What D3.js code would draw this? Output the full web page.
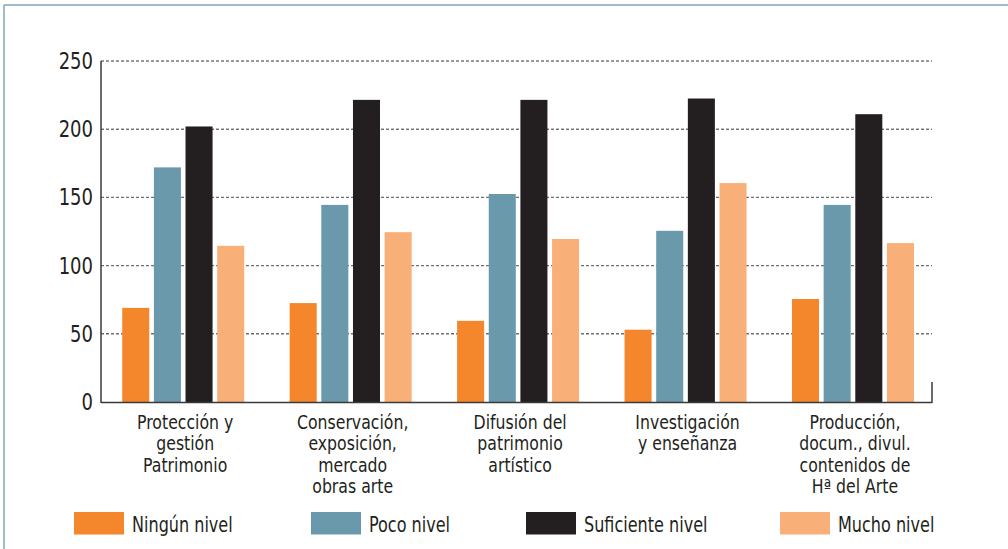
<!DOCTYPE html>
<html>
<head>
<meta charset="utf-8">
<script src="https://cdn.jsdelivr.net/npm/d3@7"></script>
<style>
  body { margin: 0; background: #fff; }
  svg text { font-family: "DejaVu Sans Condensed", "DejaVu Sans", sans-serif; fill: #231f20; }
</style>
</head>
<body>
<svg width="1008" height="549"></svg>
<script>
(function (d3) {
  'use strict';

  // Categories (each label split in lines as in the original)
  const categories = ['prot', 'cons', 'difu', 'inve', 'prod'];
  const categoryLabels = [
    ['Protección y', 'gestión', 'Patrimonio'],
    ['Conservación,', 'exposición,', 'mercado', 'obras arte'],
    ['Difusión del', 'patrimonio', 'artístico'],
    ['Investigación', 'y enseñanza'],
    ['Producción,', 'docum., divul.', 'contenidos de', 'Hª del Arte']
  ];

  // Series
  const seriesNames = ['Ningún nivel', 'Poco nivel', 'Suficiente nivel', 'Mucho nivel'];
  const seriesColors = ['#f4862b', '#6a99ac', '#231f20', '#f9af78'];

  const ningunValues = [69, 72.5, 59.5, 53, 75.5];
  const pocoValues = [172, 144.5, 152.5, 125.5, 144.5];
  const suficienteValues = [202, 221.5, 221.5, 222.5, 211];
  const muchoValues = [114.5, 124.5, 119.5, 160.5, 116.5];
  const seriesValues = [ningunValues, pocoValues, suficienteValues, muchoValues];

  const yTicks = [0, 50, 100, 150, 200, 250];

  const svg = d3.select('svg');
  const width = +svg.attr('width');
  const height = +svg.attr('height');

  // Frame: thin blue line on top and left
  svg.append('line')
    .attr('x1', 4).attr('x2', width).attr('y1', 5).attr('y2', 5)
    .attr('stroke', '#7fa6ba').attr('stroke-width', 1.5);
  svg.append('line')
    .attr('x1', 4).attr('x2', 4).attr('y1', 5).attr('y2', height)
    .attr('stroke', '#7fa6ba').attr('stroke-width', 1.5);

  const axisLeft = 101;
  const axisRight = 932;

  const yScale = d3.scaleLinear().domain([0, 250]).range([402, 61]);

  const x0 = d3.scaleBand().domain(categories).range([99.5, 936.7]).padding(0);
  const groupWidth = 122;
  const x1 = d3.scaleBand().domain(seriesNames)
    .range([(x0.bandwidth() - groupWidth) / 2, (x0.bandwidth() + groupWidth) / 2])
    .paddingInner(0.146);

  // Grid lines (dashed)
  svg.append('g').selectAll('line')
    .data(yTicks.filter(d => d > 0))
    .enter().append('line')
    .attr('x1', axisLeft).attr('x2', axisRight)
    .attr('y1', d => yScale(d)).attr('y2', d => yScale(d))
    .attr('stroke', (d) => d >= 200 ? '#333' : '#6f6f6f')
    .attr('stroke-width', (d) => d >= 200 ? 1 : 1.4)
    .attr('stroke-dasharray', '3,2');

  // Y tick labels (condensed a bit to look like the original face)
  svg.append('g').selectAll('text')
    .data(yTicks)
    .enter().append('text')
    .attr('transform', d => `translate(93,${yScale(d) + 8}) scale(0.87,1)`)
    .attr('text-anchor', 'end')
    .style('font-size', '23px')
    .text(d => d);

  // Bars
  const groups = svg.append('g').selectAll('g')
    .data(categories)
    .enter().append('g')
    .attr('transform', d => `translate(${x0(d)},0)`);

  groups.selectAll('rect')
    .data((d, i) => seriesNames.map((s, j) => ({ s, j, v: seriesValues[j][i] })))
    .enter().append('rect')
    .attr('x', d => x1(d.s))
    .attr('width', x1.bandwidth())
    .attr('y', d => yScale(d.v))
    .attr('height', d => yScale(0) - yScale(d.v))
    .attr('fill', d => seriesColors[d.j]);

  // Axis lines
  svg.append('line')
    .attr('x1', axisLeft).attr('x2', axisLeft)
    .attr('y1', yScale(250)).attr('y2', yScale(0) + 1)
    .attr('stroke', '#3a3a3a').attr('stroke-width', 1.5);
  svg.append('line')
    .attr('x1', axisLeft).attr('x2', axisRight)
    .attr('y1', yScale(0) + 0.5).attr('y2', yScale(0) + 0.5)
    .attr('stroke', '#3a3a3a').attr('stroke-width', 1.5);
  svg.append('line')
    .attr('x1', axisRight).attr('x2', axisRight)
    .attr('y1', yScale(0) - 20).attr('y2', yScale(0) + 1)
    .attr('stroke', '#3a3a3a').attr('stroke-width', 1.5);

  // Category labels
  const labelG = svg.append('g').selectAll('text')
    .data(categories)
    .enter().append('text')
    .attr('text-anchor', 'middle')
    .style('font-size', '19px')
    .attr('transform', d => `translate(${x0(d) + x0.bandwidth() / 2 + 2},429) scale(0.92,1)`);

  labelG.selectAll('tspan')
    .data((d, i) => categoryLabels[i])
    .enter().append('tspan')
    .attr('x', 0)
    .attr('y', (d, i) => i * 21.5)
    .text(d => d);

  // Legend
  const legendX = [74, 311, 526, 780];
  const legendG = svg.append('g').selectAll('g')
    .data(seriesNames)
    .enter().append('g')
    .attr('transform', (d, i) => `translate(${legendX[i]},512)`);

  legendG.append('rect')
    .attr('width', 50)
    .attr('height', 22.5)
    .attr('fill', (d, i) => seriesColors[i]);

  legendG.append('text')
    .attr('transform', 'translate(58,19.5) scale(0.85,1)')
    .style('font-size', '21px')
    .text(d => d);

}(d3));
</script>
</body>
</html>
